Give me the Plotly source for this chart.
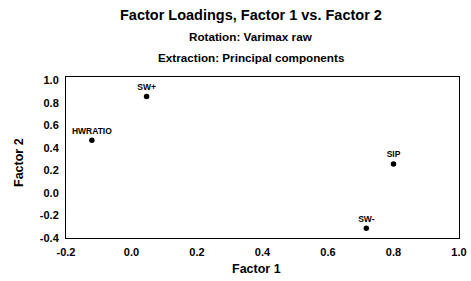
import plotly.graph_objects as go

variables = ["HWRATIO", "SW+", "SIP", "SW-"]
factor1 = [-0.121, 0.046, 0.80, 0.717]
factor2 = [0.468, 0.856, 0.258, -0.314]

x_ticks = [-0.2, 0.0, 0.2, 0.4, 0.6, 0.8, 1.0]
y_ticks = [-0.4, -0.2, 0.0, 0.2, 0.4, 0.6, 0.8, 1.0]

title_lines = [
    "Factor Loadings, Factor 1 vs. Factor 2",
    "Rotation: Varimax raw",
    "Extraction: Principal components",
]
title_sizes = [14.5, 11.7, 11.7]
title_y = [15, 37, 57]  # pixel rows from the top of the page

W, H = 471, 281
L, R, T, B = 66, 12, 77, 43
pw, ph = W - L - R, H - T - B

font = "Liberation Sans, Arial, sans-serif"

fig = go.Figure()
fig.add_trace(go.Scatter(
    x=factor1, y=factor2, mode="markers+text",
    text=["<b>" + v + "</b>" for v in variables], textposition="top center",
    textfont=dict(family=font, size=8.5, color="black"),
    marker=dict(size=5.5, color="black"),
    cliponaxis=False, showlegend=False,
))

for line, sz, yy in zip(title_lines, title_sizes, title_y):
    fig.add_annotation(
        text="<b>" + line + "</b>", xref="paper", yref="paper",
        x=(251 - L) / pw, y=(H - B - yy) / ph,
        xanchor="center", yanchor="middle",
        showarrow=False, font=dict(family=font, size=sz, color="black"),
    )
# axis titles
fig.add_annotation(
    text="<b>Factor 1</b>", xref="paper", yref="paper",
    x=(256 - L) / pw, y=(H - B - 269) / ph,
    xanchor="center", yanchor="middle", showarrow=False,
    font=dict(family=font, size=12.5, color="black"),
)
fig.add_annotation(
    text="<b>Factor 2</b>", xref="paper", yref="paper",
    x=(19 - L) / pw, y=(H - B - 163) / ph,
    xanchor="center", yanchor="middle", showarrow=False, textangle=-90,
    font=dict(family=font, size=12.5, color="black"),
)

fig.update_layout(
    width=W, height=H,
    margin=dict(l=L, r=R, t=T, b=B, autoexpand=False),
    paper_bgcolor="white", plot_bgcolor="white",
    font=dict(family=font, size=11, color="black"),
)
fig.update_xaxes(
    range=[-0.2, 1.0], tickvals=x_ticks,
    ticktext=[f"<b>{v:.1f}</b>" for v in x_ticks],
    showgrid=False, zeroline=False, showline=True, linecolor="black",
    linewidth=1, mirror=True, ticks="", ticklen=0, automargin=False,
    ticklabelstandoff=4,
)
fig.update_yaxes(
    range=[-0.4, 1.03], tickvals=y_ticks,
    ticktext=[f"<b>{v:.1f}</b>" for v in y_ticks],
    showgrid=False, zeroline=False, showline=True, linecolor="black",
    linewidth=1, mirror=True, ticks="", ticklen=0, automargin=False,
    ticklabelstandoff=4,
)

fig.write_html(
    "out.html",
    config={"displayModeBar": False},
    post_script="document.body.style.margin='0';document.body.style.overflow='hidden';",
)
